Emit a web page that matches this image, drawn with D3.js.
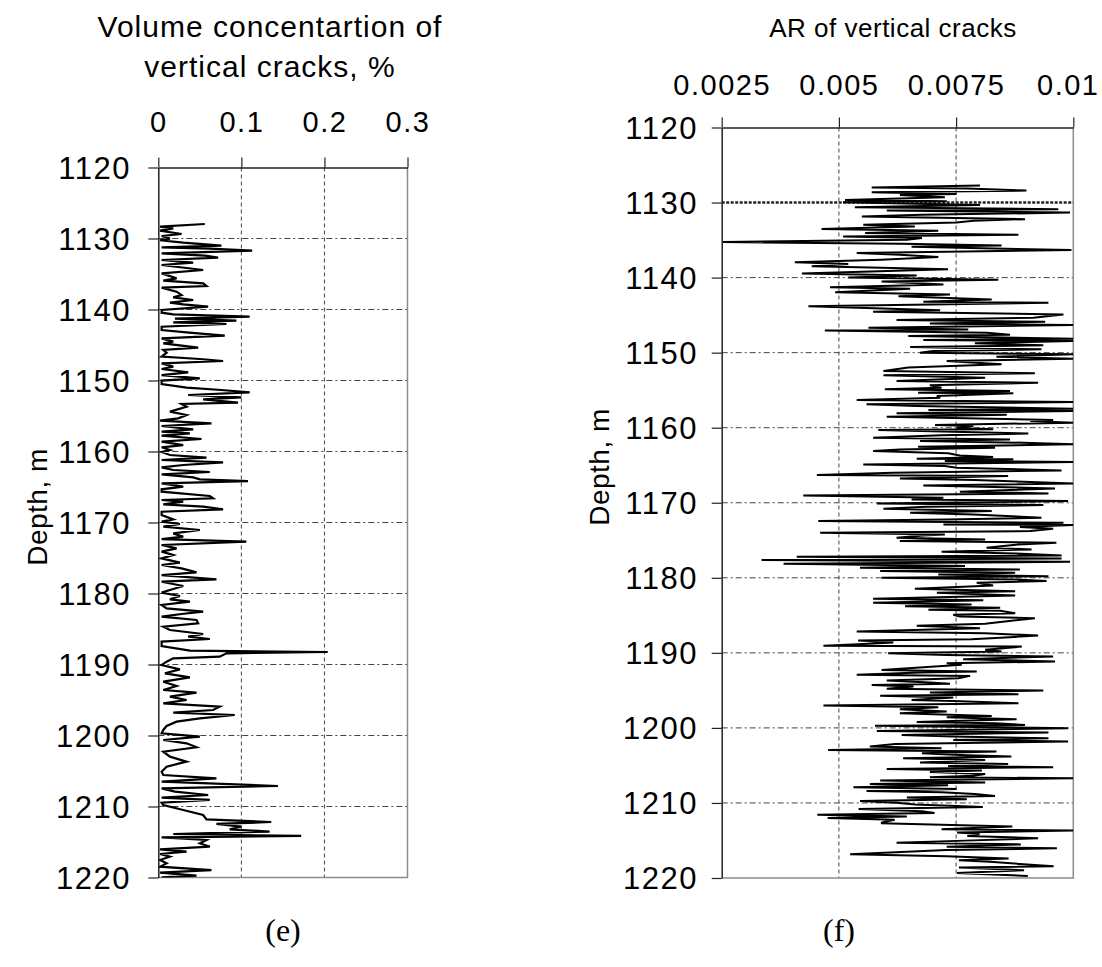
<!DOCTYPE html>
<html>
<head>
<meta charset="utf-8">
<script src="https://cdn.jsdelivr.net/npm/d3@7"></script>
<style>
  body { margin: 0; background: #fff; }
  svg { display: block; }
</style>
</head>
<body>
<div id="chart"></div>
<script>
// Depth axis ticks (shared by both panels)
const depthTicks = [1120, 1130, 1140, 1150, 1160, 1170, 1180, 1190, 1200, 1210, 1220];

// Panel (e): volume concentration of vertical cracks, %  -> [depth, value]
const volumeTicks = [0, 0.1, 0.2, 0.3];
const volumeTickLabels = ["0", "0.1", "0.2", "0.3"];
const volumeSeries = [
  [1127.96,0.056],[1128.33,0.002],[1128.57,0.018],[1128.90,0.002],[1129.37,0.028],[1129.65,0.004],
  [1130.02,0.014],[1130.25,0.002],[1130.59,0.030],[1131.01,0.076],[1131.24,0.004],[1131.43,0.062],
  [1131.71,0.113],[1132.09,0.004],[1132.42,0.056],[1132.70,0.072],[1133.03,0.004],[1133.40,0.042],
  [1133.73,0.004],[1134.44,0.054],[1134.91,0.004],[1135.61,0.022],[1135.94,0.006],[1136.32,0.054],
  [1136.69,0.058],[1136.93,0.004],[1137.49,0.022],[1137.96,0.028],[1138.29,0.018],[1138.66,0.042],
  [1139.04,0.014],[1139.27,0.030],[1139.60,0.060],[1140.07,0.004],[1140.45,0.004],[1140.68,0.018],
  [1141.01,0.110],[1141.29,0.020],[1141.57,0.094],[1141.81,0.018],[1142.04,0.082],[1142.42,0.004],
  [1142.89,0.004],[1143.22,0.034],[1143.69,0.080],[1144.06,0.004],[1144.53,0.018],[1144.77,0.006],
  [1145.38,0.048],[1145.70,0.006],[1146.08,0.010],[1146.64,0.004],[1146.97,0.050],[1147.25,0.078],
  [1147.58,0.004],[1148.05,0.018],[1148.38,0.004],[1148.85,0.036],[1149.23,0.004],[1149.69,0.050],
  [1150.02,0.004],[1150.49,0.004],[1151.01,0.034],[1151.34,0.076],[1151.67,0.110],[1152.04,0.036],
  [1152.37,0.100],[1152.65,0.054],[1153.12,0.096],[1153.31,0.028],[1153.69,0.034],[1154.39,0.014],
  [1154.86,0.034],[1155.33,0.024],[1155.66,0.002],[1156.03,0.064],[1156.41,0.004],[1156.88,0.042],
  [1157.21,0.004],[1157.44,0.038],[1157.77,0.004],[1158.24,0.052],[1158.62,0.004],[1159.09,0.030],
  [1159.41,0.004],[1159.79,0.014],[1160.07,0.004],[1160.49,0.014],[1160.87,0.058],[1161.20,0.004],
  [1161.53,0.078],[1161.90,0.030],[1162.23,0.004],[1162.61,0.018],[1162.89,0.062],[1163.22,0.004],
  [1163.64,0.042],[1163.92,0.050],[1164.16,0.108],[1164.49,0.004],[1164.95,0.030],[1165.33,0.004],
  [1165.66,0.004],[1166.27,0.062],[1166.60,0.066],[1166.83,0.004],[1167.07,0.030],[1167.44,0.006],
  [1167.77,0.054],[1168.15,0.078],[1168.48,0.004],[1168.95,0.004],[1169.56,0.018],[1169.88,0.004],
  [1170.21,0.026],[1170.59,0.006],[1171.06,0.050],[1171.53,0.018],[1172.00,0.030],[1172.33,0.004],
  [1172.70,0.106],[1173.17,0.004],[1173.64,0.022],[1174.11,0.004],[1174.58,0.018],[1175.05,0.004],
  [1175.66,0.026],[1175.99,0.004],[1176.46,0.028],[1177.02,0.046],[1177.40,0.004],[1178.01,0.070],
  [1178.34,0.004],[1178.95,0.030],[1179.51,0.014],[1179.88,0.004],[1180.35,0.026],[1180.82,0.014],
  [1181.15,0.038],[1181.62,0.004],[1182.09,0.010],[1182.56,0.054],[1182.89,0.028],[1183.26,0.004],
  [1183.73,0.046],[1184.20,0.048],[1184.67,0.006],[1185.14,0.014],[1185.70,0.054],[1186.08,0.036],
  [1186.41,0.062],[1186.78,0.004],[1187.39,0.004],[1188.05,0.038],[1188.24,0.204],[1188.42,0.082],
  [1188.89,0.074],[1189.13,0.018],[1189.60,0.010],[1190.07,0.004],[1190.68,0.026],[1191.24,0.008],
  [1191.81,0.038],[1192.42,0.006],[1193.03,0.022],[1193.59,0.006],[1193.97,0.046],[1194.53,0.014],
  [1195.00,0.034],[1195.47,0.006],[1195.94,0.074],[1196.41,0.066],[1196.78,0.018],[1197.11,0.092],
  [1197.58,0.050],[1198.05,0.022],[1198.66,0.010],[1199.22,0.006],[1199.69,0.004],[1200.16,0.050],
  [1200.63,0.006],[1201.10,0.034],[1201.66,0.046],[1202.28,0.006],[1202.98,0.014],[1203.68,0.034],
  [1204.39,0.010],[1205.09,0.004],[1205.56,0.006],[1206.03,0.070],[1206.50,0.004],[1207.11,0.144],
  [1207.44,0.004],[1207.91,0.020],[1208.38,0.060],[1208.75,0.004],[1209.08,0.062],[1209.46,0.004],
  [1209.79,0.006],[1210.49,0.030],[1211.20,0.054],[1211.81,0.058],[1212.18,0.136],[1212.46,0.070],
  [1212.84,0.100],[1213.21,0.086],[1213.54,0.134],[1213.87,0.018],[1214.15,0.172],[1214.34,0.004],
  [1214.72,0.058],[1215.19,0.050],[1215.66,0.062],[1216.04,0.002],[1216.36,0.034],[1216.69,0.002],
  [1217.07,0.014],[1217.54,0.002],[1218.01,0.010],[1218.48,0.002],[1218.95,0.064],[1219.32,0.002],
  [1219.74,0.046],[1219.98,0.004]
];

// Panel (f): aspect ratio of vertical cracks -> [depth, value]
const aspectTicks = [0.0025, 0.005, 0.0075, 0.01];
const aspectTickLabels = ["0.0025", "0.005", "0.0075", "0.01"];
const aspectSeries = [
  [1127.74,0.00801],[1128.01,0.00570],[1128.14,0.00773],[1128.41,0.00900],[1128.63,0.00570],[1128.85,0.00751],
  [1128.98,0.00630],[1129.29,0.00726],[1129.65,0.00513],[1129.82,0.00730],[1129.96,0.00509],[1130.31,0.00801],
  [1130.62,0.00534],[1130.88,0.00968],[1131.06,0.00602],[1131.33,0.00993],[1131.64,0.00677],[1131.86,0.00549],
  [1132.21,0.00897],[1132.43,0.00787],[1132.65,0.00751],[1132.96,0.00552],[1133.19,0.00662],[1133.54,0.00463],
  [1133.76,0.00712],[1134.07,0.00556],[1134.29,0.00883],[1134.51,0.00509],[1134.73,0.00677],[1134.96,0.00645],
  [1135.27,0.00252],[1135.49,0.00634],[1135.71,0.00847],[1135.89,0.00655],[1136.33,0.00996],[1136.73,0.00538],
  [1136.95,0.00630],[1137.26,0.00712],[1137.61,0.00591],[1137.96,0.00406],[1138.19,0.00520],[1138.50,0.00442],
  [1138.67,0.00566],[1138.89,0.00733],[1139.47,0.00421],[1139.73,0.00666],[1140.00,0.00520],[1140.27,0.00840],
  [1140.53,0.00591],[1140.93,0.00723],[1141.28,0.00481],[1141.50,0.00652],[1141.95,0.00492],[1142.26,0.00737],
  [1142.48,0.00627],[1142.92,0.00826],[1143.23,0.00680],[1143.36,0.00947],[1143.81,0.00435],[1144.34,0.00716],
  [1144.56,0.00573],[1144.91,0.00979],[1145.35,0.00915],[1145.66,0.00623],[1145.88,0.00940],[1146.11,0.00694],
  [1146.33,0.01000],[1146.68,0.00563],[1146.90,0.00776],[1147.04,0.00470],[1147.35,0.00815],[1147.61,0.00865],
  [1147.79,0.00648],[1148.14,0.01000],[1148.32,0.00680],[1148.45,0.01000],[1148.76,0.00790],[1149.03,0.00936],
  [1149.25,0.00652],[1149.56,0.00932],[1149.78,0.00701],[1150.00,0.00673],[1150.22,0.01000],[1150.53,0.00836],
  [1150.80,0.01000],[1151.11,0.00730],[1151.55,0.00847],[1151.99,0.00648],[1152.44,0.00595],[1152.76,0.00918],
  [1153.02,0.00595],[1153.33,0.00812],[1153.78,0.00623],[1154.00,0.00925],[1154.36,0.00694],[1154.67,0.00719],
  [1154.89,0.00598],[1155.11,0.00865],[1155.33,0.00669],[1155.42,0.00872],[1155.78,0.00709],[1156.00,0.00716],
  [1156.31,0.00538],[1156.58,0.01000],[1156.89,0.00559],[1157.11,0.00666],[1157.47,0.01000],[1157.64,0.00691],
  [1157.78,0.01000],[1158.09,0.00623],[1158.27,0.00858],[1158.53,0.00602],[1158.98,0.00957],[1159.11,0.00908],
  [1159.33,0.01000],[1159.64,0.00705],[1159.78,0.00787],[1160.00,0.00751],[1160.22,0.00829],[1160.31,0.00584],
  [1160.76,0.00904],[1161.02,0.00719],[1161.33,0.00573],[1161.56,0.00865],[1161.78,0.00673],[1162.00,0.00893],
  [1162.22,0.01000],[1162.53,0.00669],[1162.67,0.00833],[1162.89,0.00630],[1163.11,0.00573],[1163.42,0.00733],
  [1163.69,0.00758],[1163.91,0.00829],[1164.13,0.00666],[1164.22,0.00872],[1164.44,0.00726],[1164.58,0.01000],
  [1164.89,0.00552],[1165.11,0.00726],[1165.33,0.00751],[1165.69,0.00975],[1166.00,0.00616],[1166.31,0.00453],
  [1166.44,0.00861],[1166.76,0.00630],[1166.98,0.00790],[1167.42,0.01000],[1167.69,0.00680],[1168.09,0.00961],
  [1168.53,0.00758],[1168.76,0.00947],[1169.02,0.00424],[1169.33,0.00723],[1169.56,0.00655],[1169.78,0.00989],
  [1170.09,0.00581],[1170.31,0.00936],[1170.53,0.00687],[1170.80,0.00595],[1171.11,0.00826],[1171.33,0.00652],
  [1171.56,0.00787],[1172.00,0.00932],[1172.22,0.00730],[1172.44,0.00456],[1172.67,0.00979],[1172.89,0.00723],
  [1172.98,0.01000],[1173.24,0.00886],[1173.47,0.00957],[1173.78,0.00908],[1174.00,0.00460],[1174.22,0.00726],
  [1174.36,0.00680],[1174.67,0.00623],[1174.89,0.00812],[1175.11,0.00630],[1175.33,0.00964],[1175.56,0.00883],
  [1176.00,0.00815],[1176.22,0.00911],[1176.53,0.00719],[1176.76,0.00876],[1177.02,0.00975],[1177.20,0.00410],
  [1177.42,0.00975],[1177.64,0.00335],[1177.87,0.00993],[1178.13,0.00382],[1178.44,0.00769],[1178.67,0.00545],
  [1178.89,0.00886],[1179.11,0.00588],[1179.33,0.00876],[1179.56,0.00712],[1179.78,0.00947],[1180.00,0.00591],
  [1180.22,0.00876],[1180.44,0.00943],[1180.67,0.00794],[1181.02,0.00829],[1181.47,0.00662],[1181.78,0.00876],
  [1182.00,0.00709],[1182.36,0.00876],[1182.80,0.00573],[1182.98,0.00808],[1183.33,0.00573],[1183.56,0.00783],
  [1183.78,0.00641],[1184.00,0.00844],[1184.27,0.00691],[1184.40,0.00844],[1184.71,0.00876],[1184.93,0.00744],
  [1185.16,0.00758],[1185.38,0.00918],[1185.82,0.00854],[1186.13,0.00812],[1186.40,0.00666],[1186.71,0.00801],
  [1187.16,0.00538],[1187.38,0.00812],[1187.69,0.00925],[1187.91,0.00865],[1188.18,0.00783],[1188.36,0.00541],
  [1188.62,0.00616],[1188.84,0.00541],[1189.07,0.00467],[1189.16,0.00890],[1189.60,0.00812],[1189.82,0.00847],
  [1190.04,0.00605],[1190.27,0.00730],[1190.49,0.00957],[1190.84,0.00765],[1191.16,0.00961],[1191.38,0.00730],
  [1191.60,0.00762],[1192.27,0.00591],[1192.49,0.00794],[1192.62,0.00673],[1192.93,0.00538],[1193.07,0.00780],
  [1193.38,0.00755],[1193.69,0.00602],[1193.96,0.00694],[1194.13,0.00737],[1194.27,0.00570],[1194.49,0.00659],
  [1194.80,0.00602],[1195.02,0.00936],[1195.29,0.00694],[1195.51,0.00883],[1195.73,0.00588],[1195.96,0.00744],
  [1196.27,0.00655],[1196.40,0.00744],[1196.71,0.00883],[1197.02,0.00467],[1197.24,0.00712],[1197.51,0.00630],
  [1197.82,0.00730],[1198.04,0.00630],[1198.40,0.00826],[1198.58,0.00730],[1198.84,0.00879],[1199.20,0.00666],
  [1199.38,0.00833],[1199.60,0.00897],[1199.73,0.00577],[1200.04,0.00989],[1200.40,0.00581],[1200.62,0.00947],
  [1200.93,0.00634],[1201.16,0.00744],[1201.38,0.00947],[1201.60,0.00744],[1201.82,0.00989],[1202.13,0.00620],
  [1202.49,0.00566],[1202.71,0.00719],[1202.93,0.00477],[1203.16,0.00836],[1203.38,0.00677],[1203.60,0.00758],
  [1203.82,0.00868],[1204.04,0.00637],[1204.27,0.00812],[1204.62,0.00673],[1204.80,0.00861],[1205.07,0.00733],
  [1205.24,0.00957],[1205.47,0.00602],[1205.69,0.00805],[1205.87,0.00694],[1206.13,0.00812],[1206.36,0.00787],
  [1206.58,0.00694],[1206.71,0.01000],[1207.02,0.00588],[1207.29,0.00812],[1207.47,0.00566],[1207.64,0.00733],
  [1207.91,0.00531],[1208.13,0.00751],[1208.40,0.00559],[1208.58,0.00719],[1208.80,0.00790],[1209.07,0.00833],
  [1209.29,0.00645],[1209.51,0.00773],[1209.73,0.00545],[1209.96,0.00623],[1210.22,0.00663],[1210.54,0.00807],
  [1210.81,0.00542],[1211.12,0.00678],[1211.35,0.00704],[1211.57,0.00454],[1211.79,0.00645],[1212.02,0.00476],
  [1212.24,0.00619],[1212.56,0.00594],[1212.69,0.00590],[1213.14,0.00870],[1213.50,0.00719],[1213.68,0.01000],
  [1213.95,0.00752],[1214.13,0.00800],[1214.39,0.00774],[1214.71,0.00925],[1215.02,0.00770],[1215.29,0.00623],
  [1215.52,0.00888],[1215.83,0.00730],[1216.05,0.00965],[1216.28,0.00730],[1216.82,0.00524],[1217.09,0.00730],
  [1217.40,0.00862],[1217.62,0.00756],[1217.85,0.00822],[1218.43,0.00958],[1218.61,0.00756],[1218.97,0.00895],
  [1219.33,0.00752],[1219.73,0.00903]
];

const width = 1102;
const height = 967;
const sans = "'Liberation Sans', Arial, sans-serif";

const svg = d3.select("#chart")
    .append("svg")
    .attr("width", width)
    .attr("height", height);

svg.append("rect")
    .attr("width", width)
    .attr("height", height)
    .attr("fill", "#fff");

// Draw one depth-log panel
function drawPanel(p) {
    const x = d3.scaleLinear().domain(p.xDomain).range([p.left, p.right]);
    const y = d3.scaleLinear().domain([1120, 1220]).range([p.top, p.bottom]);

    const g = svg.append("g");

    // vertical dashed gridlines at the inner x ticks
    g.selectAll(".vgrid")
        .data(p.xTicks.slice(1, -1))
        .join("line")
        .attr("x1", d => x(d)).attr("x2", d => x(d))
        .attr("y1", p.top).attr("y2", p.bottom)
        .attr("stroke", "#444")
        .attr("stroke-width", 1)
        .attr("stroke-dasharray", "4,3");

    // horizontal dash-dot gridlines at depth ticks
    g.selectAll(".hgrid")
        .data(depthTicks.slice(1, -1))
        .join("line")
        .attr("x1", p.left).attr("x2", p.right)
        .attr("y1", d => y(d)).attr("y2", d => y(d))
        .attr("stroke", d => (p.heavy === d ? "#222" : "#444"))
        .attr("stroke-width", d => (p.heavy === d ? 2.5 : 1))
        .attr("stroke-dasharray", d => (p.heavy === d ? "3,1.5" : "6,3,2,3"));

    // plot-area border (right and bottom, grey)
    g.append("path")
        .attr("d", `M${p.left},${p.bottom}H${p.right}V${p.top}`)
        .attr("fill", "none")
        .attr("stroke", "#8c8c8c")
        .attr("stroke-width", 1.5);

    // clip for the data line
    svg.append("clipPath")
        .attr("id", p.id)
        .append("rect")
        .attr("x", p.left).attr("y", p.top)
        .attr("width", p.right - p.left).attr("height", p.bottom - p.top);

    const line = d3.line()
        .x(d => x(d[1]))
        .y(d => y(d[0]));

    g.append("path")
        .datum(p.series)
        .attr("clip-path", `url(#${p.id})`)
        .attr("fill", "none")
        .attr("stroke", "#000")
        .attr("stroke-width", p.lineWidth)
        .attr("stroke-linejoin", "miter")
        .attr("d", line);

    // top axis
    const top = g.append("g")
        .attr("transform", `translate(0,${p.top})`)
        .call(d3.axisTop(x).tickValues(p.xTicks).tickSize(10).tickSizeOuter(0)
            .tickFormat((d, i) => p.xLabels[i]));
    top.select(".domain").attr("stroke", "#222").attr("stroke-width", 1.5);
    top.selectAll(".tick line").attr("stroke", "#222").attr("stroke-width", 1.2);
    top.selectAll(".tick text")
        .attr("y", p.xLabelY - p.top)
        .attr("dy", 0)
        .attr("font-family", sans)
        .attr("font-size", 29)
        .attr("letter-spacing", "1.5px")
        .attr("fill", "#000");
    // keep the last label inside the picture
    if (p.lastLabelEnd) {
        top.selectAll(".tick:last-of-type text")
            .attr("text-anchor", "end")
            .attr("x", p.lastLabelEnd - p.right);
    }

    // left axis (depth)
    const left = g.append("g")
        .attr("transform", `translate(${p.left},0)`)
        .call(d3.axisLeft(y).tickValues(depthTicks).tickSize(10).tickSizeOuter(0)
            .tickFormat(d3.format("d")));
    left.select(".domain").attr("stroke", "#222").attr("stroke-width", 1.5);
    left.selectAll(".tick line").attr("stroke", "#222").attr("stroke-width", 1.2);
    left.selectAll(".tick text")
        .attr("x", p.yLabelX - p.left)
        .attr("dy", "0.35em")
        .attr("font-family", sans)
        .attr("font-size", 31)
        .attr("letter-spacing", "1.5px")
        .attr("fill", "#000");

    // axis title on top
    p.title.forEach((t, i) => {
        svg.append("text")
            .attr("x", p.titleX)
            .attr("y", p.titleY + i * 39.5)
            .attr("text-anchor", "middle")
            .attr("font-family", sans)
            .attr("font-size", p.titleSize)
            .attr("letter-spacing", p.titleSpacing)
            .text(t);
    });

    // depth title
    svg.append("text")
        .attr("transform", `translate(${p.depthX},${p.depthY}) rotate(-90)`)
        .attr("text-anchor", "middle")
        .attr("font-family", sans)
        .attr("font-size", 28)
        .attr("letter-spacing", "0.5px")
        .text("Depth, m");

    // panel letter
    svg.append("text")
        .attr("x", p.letterX)
        .attr("y", 941)
        .attr("text-anchor", "middle")
        .attr("font-family", "'Liberation Serif', 'Times New Roman', serif")
        .attr("font-size", 32)
        .text(p.letter);
}

drawPanel({
    id: "clip-e",
    series: volumeSeries, lineWidth: 2.2,
    xDomain: [0, 0.3], xTicks: volumeTicks, xLabels: volumeTickLabels,
    left: 158.3, right: 407.5, top: 167.5, bottom: 877.5,
    xLabelY: 132, yLabelX: 131,
    title: ["Volume concentartion of", "vertical cracks, %"],
    titleX: 270, titleY: 37, titleSize: 30, titleSpacing: "1px",
    depthX: 47, depthY: 507,
    letter: "(e)", letterX: 283,
    heavy: null
});

drawPanel({
    id: "clip-f",
    series: aspectSeries, lineWidth: 2,
    xDomain: [0.0025, 0.01], xTicks: aspectTicks, xLabels: aspectTickLabels,
    left: 721.7, right: 1073.3, top: 127.5, bottom: 878,
    xLabelY: 95, yLabelX: 698, lastLabelEnd: 1099,
    title: ["AR of vertical cracks"],
    titleX: 893, titleY: 37, titleSize: 26, titleSpacing: "0.5px",
    depthX: 609, depthY: 467,
    letter: "(f)", letterX: 839,
    heavy: 1130
});
</script>
</body>
</html>
